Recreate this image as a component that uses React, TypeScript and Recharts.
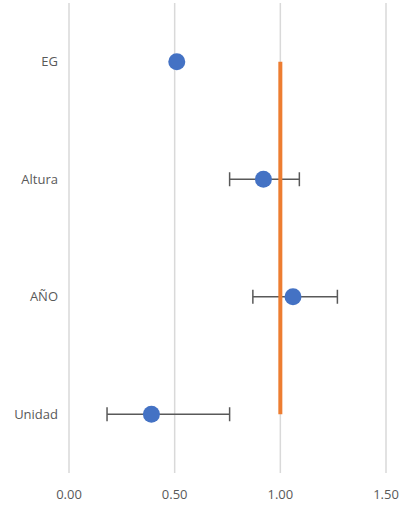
import React from 'react'
import {
  ScatterChart,
  Scatter,
  XAxis,
  YAxis,
  CartesianGrid,
  ErrorBar,
} from 'recharts'

const categories = ['EG', 'Altura', 'AÑO', 'Unidad']
const estimates = [0.51, 0.92, 1.06, 0.39]
const lowerBounds = [0.51, 0.76, 0.87, 0.18]
const upperBounds = [0.51, 1.09, 1.27, 0.76]
const referenceValue = 1
const xTicks = [0, 0.5, 1, 1.5]
const yPositions = [0.5, 1.5, 2.5, 3.5]

const pointData = categories.map((name, i) => ({
  name,
  x: estimates[i],
  y: yPositions[i],
  errX: [estimates[i] - lowerBounds[i], upperBounds[i] - estimates[i]],
}))

const refLineData = [
  { x: referenceValue, y: yPositions[0] },
  { x: referenceValue, y: yPositions[yPositions.length - 1] },
]

const font = '"Open Sans", sans-serif'

export default function App() {
  return (
    <div style={{ position: 'absolute', left: 0, top: 0, background: '#fff' }}>
      <ScatterChart
        width={405}
        height={511}
        margin={{ top: 3, right: 19, left: 0, bottom: 8 }}
      >
        <CartesianGrid horizontal={false} stroke="#d9d9d9" strokeWidth={1.5} />
        <XAxis
          type="number"
          dataKey="x"
          domain={[0, 1.5]}
          ticks={xTicks}
          tickFormatter={(v: number) => v.toFixed(2)}
          axisLine={false}
          tickLine={false}
          tickMargin={11}
          height={30}
          tick={{ fontSize: 13, fill: '#595959', fontFamily: font }}
        />
        <YAxis
          type="number"
          dataKey="y"
          domain={[0, 4]}
          reversed
          ticks={yPositions}
          tickFormatter={(v: number) => categories[yPositions.indexOf(v)] ?? ''}
          axisLine={false}
          tickLine={false}
          tickMargin={5}
          width={69}
          tick={{ fontSize: 13, fill: '#595959', fontFamily: font }}
        />
        <Scatter
          data={pointData}
          fill="#4472C4"
          isAnimationActive={false}
          shape={(p: any) => <circle cx={p.cx} cy={p.cy} r={8.5} fill="#4472C4" />}
        >
          <ErrorBar
            dataKey="errX"
            direction="x"
            width={7}
            stroke="#595959"
            strokeWidth={1.5}
            isAnimationActive={false}
          />
        </Scatter>
        <Scatter
          data={refLineData}
          isAnimationActive={false}
          line={{ stroke: '#ED7D31', strokeWidth: 4 }}
          shape={() => <g />}
        />
      </ScatterChart>
    </div>
  )
}
